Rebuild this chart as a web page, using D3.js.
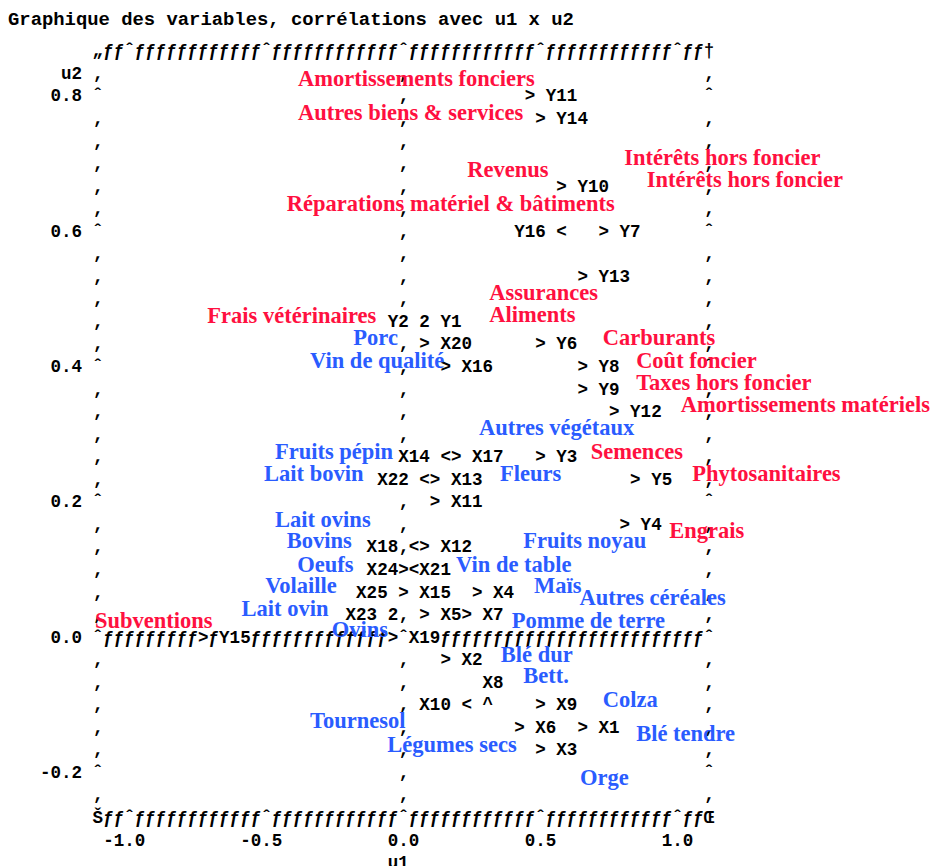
<!DOCTYPE html>
<html><head><meta charset="utf-8">
<script src="https://cdn.jsdelivr.net/npm/d3@7"></script>
<style>
html,body{margin:0;padding:0;background:#fff;}
svg{display:block;}
</style></head><body>
<svg id="chart" width="932" height="866"></svg>
<script>
// ---------------- data ----------------
const chartTitle = "Graphique des variables, corrélations avec u1 x u2";
const tickValuesU1 = [-1.0, -0.5, 0.0, 0.5, 1.0];
const tickLabelsU1 = ["-1.0", "-0.5", "0.0", "0.5", "1.0"];
const tickValuesU2 = [0.8, 0.6, 0.4, 0.2, 0.0, -0.2];
const tickLabelsU2 = ["0.8", "0.6", "0.4", "0.2", "0.0", "-0.2"];

// PROC PLOT points (correlations with u1, u2)
const varNames = ["X1","X2","X3","X4","X5","X6","X7","X8","X9","X10","X11","X12","X13","X14","X15","X16","X17","X18","X19","X20","X21","X22","X23","X24","X25",
                  "Y1","Y2","Y3","Y4","Y5","Y6","Y7","Y8","Y9","Y10","Y11","Y12","Y13","Y14","Y15","Y16"];
const u1Values = [0.65,0.15,0.50,0.27,0.08,0.42,0.23,0.31,0.50,0.23,0.12,0.08,0.12,0.15,0.01,0.15,0.19,0.04,-0.04,0.08,0.01,0.08,-0.04,0.04,-0.04,
                  0.08,0.08,0.50,0.81,0.85,0.50,0.73,0.65,0.65,0.58,0.46,0.77,0.65,0.50,-0.73,0.58];
const u2Values = [-0.13,-0.03,-0.17,0.07,0.03,-0.13,0.03,-0.10,-0.10,-0.10,0.20,0.13,0.23,0.27,0.07,0.40,0.27,0.13,0.00,0.43,0.10,0.23,0.03,0.10,0.03,
                  0.47,0.47,0.27,0.17,0.23,0.43,0.60,0.40,0.37,0.67,0.80,0.33,0.53,0.77,0.00,0.60];
// label placement of PROC PLOT: '>' right, '<' left, '^' above, 'ul' above-left
const labelSide = [">",">",">",">",">",">",">","^",">","<",">",">",">","<",">",">",">","<",">",">",">","<","<","<","ul",
                   ">","<",">",">",">",">",">",">",">",">",">",">",">",">",">","<"];

// annotation labels (red: charges / Y, blue: productions / X), anchored in (u1, u2)
const redNames = ["Amortissements fonciers","Autres biens & services","Revenus","Intérêts hors foncier","Intérêts hors foncier",
  "Réparations matériel & bâtiments","Assurances","Frais vétérinaires","Aliments","Carburants","Coût foncier",
  "Taxes hors foncier","Amortissements matériels","Semences","Phytosanitaires","Engrais","Subventions"];
const redU1 = [-0.385,-0.385,0.233,0.806,0.888,-0.426,0.313,-0.716,0.313,0.727,0.849,0.849,1.012,0.683,1.054,0.970,-1.126];
const redU2 = [0.8145,0.764,0.680,0.698,0.665,0.630,0.498,0.464,0.465,0.432,0.397,0.365,0.332,0.263,0.231,0.147,0.014];

const blueNames = ["Porc","Vin de qualité","Autres végétaux","Fruits pépin","Lait bovin","Fleurs","Lait ovins","Bovins",
  "Fruits noyau","Oeufs","Vin de table","Volaille","Maïs","Autres céréales","Lait ovin","Pomme de terre","Ovins",
  "Blé dur","Bett.","Colza","Tournesol","Blé tendre","Légumes secs","Orge"];
const blueU1 = [-0.183,-0.341,0.276,-0.469,-0.509,0.352,-0.469,-0.426,0.437,-0.388,0.192,-0.505,0.476,0.642,-0.591,0.395,-0.262,
  0.355,0.437,0.727,-0.341,0.849,-0.059,0.644];
const blueU2 = [0.432,0.397,0.299,0.263,0.231,0.231,0.163,0.131,0.131,0.0965,0.0965,0.0646,0.0646,0.0473,0.031,0.0137,0.0,
  -0.0365,-0.0684,-0.103,-0.135,-0.153,-0.170,-0.219];

// ---------------- drawing ----------------
const svg = d3.select("#chart");
const mono = "'Liberation Mono','Courier New',monospace";
const serif = "'Liberation Serif','Times New Roman',serif";
const FS = 17.57;
const colStep = 0.5 / 13;   // u1 per printer column
const rowStep = 0.2 / 6;    // u2 per printer line

const x = d3.scaleLinear().domain([-1, 1]).range([129.5, 677.5]);
const y = d3.scaleLinear().domain([-0.2, 0.8]).range([772.3, 95.8]);
const cx = c => x(c * colStep);
const cy = r => y(r * rowStep);

const grid = new Map();
const put = (r, c, ch) => { if (ch !== " ") grid.set(r + "," + c, {r, c, ch}); else grid.delete(r + "," + c); };
const putStr = (r, c, s) => [...s].forEach((ch, j) => put(r, c + j, ch));

const tickCols = tickValuesU1.map(v => Math.round(v / colStep));
const tickRows = tickValuesU2.map(v => Math.round(v / rowStep));
const c0 = d3.min(tickCols) - 3, c1 = d3.max(tickCols) + 3;
const r0 = d3.min(tickRows) - 2, r1 = d3.max(tickRows) + 2;

// frame
for (let c = c0 + 1; c < c1; c++) {
  const t = tickCols.includes(c) ? "ˆ" : "ƒ";
  put(r1, c, t); put(r0, c, t);
}
put(r1, c0, "„"); put(r1, c1, "†"); put(r0, c0, "Š"); put(r0, c1, "Œ");
for (let r = r0 + 1; r < r1; r++) {
  const t = tickRows.includes(r) ? "ˆ" : "‚";
  put(r, c0, t); put(r, c1, t);
}
// reference lines u1=0, u2=0
const rz = Math.round(0 / rowStep), cz = Math.round(0 / colStep);
for (let c = c0 + 1; c < c1; c++) put(rz, c, "ƒ");
for (let r = r0 + 1; r < r1; r++) put(r, cz, "‚");
put(rz, cz, "ˆ");

// tick labels
tickLabelsU2.forEach((s, i) => putStr(tickRows[i], c0 - 1 - s.length, s));
putStr(r1 - 1, c0 - 3, "u2");
tickLabelsU1.forEach((s, i) => putStr(r0 - 1, tickCols[i] - s.indexOf("."), s));
putStr(r0 - 2, cz - 1, "u1");

// points
const cells = varNames.map((n, i) => [Math.round(u2Values[i] / rowStep), Math.round(u1Values[i] / colStep)]);
const counts = d3.rollup(cells, v => v.length, d => d[0] + "," + d[1]);
varNames.forEach((n, i) => {
  const [r, c] = cells[i];
  const side = labelSide[i];
  const cnt = counts.get(r + "," + c);
  const sym = cnt > 1 ? String(cnt) : (side === "ul" ? "A" : side);
  put(r, c, sym);
  let row = r, start;
  if (side === ">") start = c + 2;
  else if (side === "<") start = c - 1 - n.length;
  else if (side === "^") { row = r + 1; start = c; }
  else { row = r + 1; start = c - n.length; }
  putStr(row, start, n);
});

svg.append("g").selectAll("text").data([...grid.values()]).join("text")
  .attr("x", d => cx(d.c))
  .attr("y", d => cy(d.r) + 5.6)
  .attr("text-anchor", "middle")
  .attr("font-family", mono).attr("font-weight", "bold").attr("font-size", FS)
  .attr("fill", "#000")
  .text(d => d.ch);

// title
svg.append("text").attr("x", 8).attr("y", 25)
  .attr("font-family", mono).attr("font-weight", "bold").attr("font-size", 18.87)
  .text(chartTitle);

// annotation labels
const lab = svg.append("g").attr("font-family", serif).attr("font-weight", "bold").attr("font-size", 22.5);
lab.selectAll("text.red").data(redNames.map((n, i) => ({n, u: redU1[i], v: redU2[i]}))).join("text")
  .attr("class", "red").attr("x", d => x(d.u)).attr("y", d => y(d.v)).attr("fill", "#ff1040").text(d => d.n);
lab.selectAll("text.blue").data(blueNames.map((n, i) => ({n, u: blueU1[i], v: blueU2[i]}))).join("text")
  .attr("class", "blue").attr("x", d => x(d.u)).attr("y", d => y(d.v)).attr("fill", "#2a5cff").text(d => d.n);
</script>
</body></html>
